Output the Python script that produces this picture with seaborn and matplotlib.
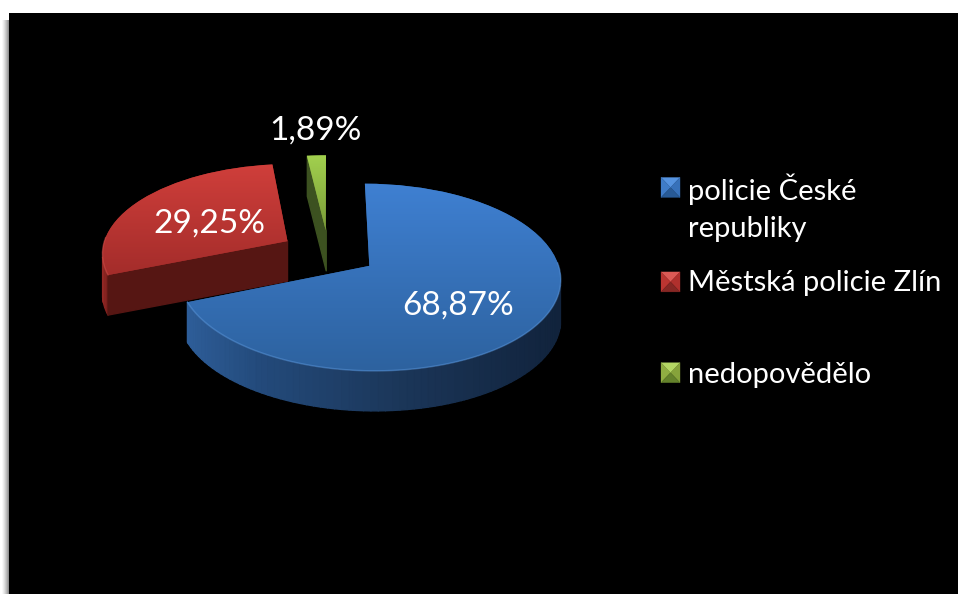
import numpy as np
import matplotlib
matplotlib.use("Agg")
import matplotlib.pyplot as plt
import seaborn as sns
from matplotlib.collections import PolyCollection
from matplotlib.colors import to_rgb
from matplotlib.legend_handler import HandlerBase
from matplotlib.patches import Polygon, Rectangle
from matplotlib.transforms import Affine2D, Transform

categories = ["policie České\nrepubliky", "Městská policie Zlín\n", "nedopovědělo"]
values = [68.87, 29.25, 1.89]
value_labels = ["68,87%", "29,25%", "1,89%"]

W, H = 958, 594
CX, CY, RX, RY = 328.5, 252.7, 186.0, 89.0
TILT = 0.12
DEPTH = 40.0
EXPLODE = 0.26

face_stops = [
    ((183, "#3f80d2"), (370, "#2d629f")),
    ((163, "#d03f3b"), (277, "#a32c2a")),
    ((153, "#a3d24f"), (230, "#7a9b38")),
]
wall_stops = [
    [(186, "#2e5e99"), (260, "#234a7b"), (400, "#1b3659"), (560, "#11233c")],
    [(101, "#a02c29"), (108, "#7a1f1c"), (116, "#561613"), (288, "#551612")],
    [(306, "#3b4f20"), (322, "#3d5220"), (326, "#5d7f2e")],
]
rim_colors = ["#5f9be0", "#d9544f", "#b4dc62"]
label_px = [(458, 306), (209, 224), (316, 131)]
bevels = [
    ("#5593e0", "#3f7cc8", "#3771ba", "#285a96"),
    ("#dc5a55", "#bb3531", "#b0302d", "#862724"),
    ("#b4d764", "#90ae42", "#86a33b", "#64822b"),
]


class Perspective(Transform):
    input_dims = output_dims = 2
    has_inverse = False

    def transform_non_affine(self, xy):
        xy = np.asarray(xy, dtype=float)
        return xy / (1 + TILT * xy[:, 1:2])


def dx(px):
    return (px - CX) / RX


def dy(py):
    return (CY - py) / RY


def lerp(stops, v):
    pos = [s[0] for s in stops]
    cols = np.array([to_rgb(s[1]) for s in stops])
    return np.array([np.interp(v, pos, cols[:, i]) for i in range(3)]).T


class BevelHandle:
    def __init__(self, cols, lift):
        self.cols, self.lift = cols, lift


class BevelHandler(HandlerBase):
    def create_artists(self, legend, orig, xd, yd, width, height, fontsize, trans):
        w, h = 13.7, 14.4
        x0, y0 = -xd, -yd + height / 2 - h / 2 + orig.lift
        mid = (x0 + w / 2, y0 + h / 2)
        a, b, c, d = (x0, y0 + h), (x0 + w, y0 + h), (x0 + w, y0), (x0, y0)
        tris = [(a, b, mid), (a, d, mid), (b, c, mid), (d, c, mid)]
        return [Polygon(t, closed=True, facecolor=col, edgecolor=col, lw=0.2, transform=trans)
                for t, col in zip(tris, orig.cols)]


sns.set_theme(style="dark")
plt.rcParams["font.family"] = ["Lato", "DejaVu Sans"]

fig = plt.figure(figsize=(W / 100, H / 100), dpi=100, facecolor="white")
ax = fig.add_axes([0, 0, 1, 1])

persp = Perspective()
wedges, _ = ax.pie(values, explode=[EXPLODE] * 3, startangle=90, counterclock=False, radius=1)

ext = (dx(0), dx(W), dy(H), dy(0))
ax.set_axis_off()

ax.add_patch(Rectangle((dx(9), dy(H)), dx(W) - dx(9), dy(13) - dy(H), facecolor="black", edgecolor="none", zorder=0))
shadow = np.zeros((1, 8, 4))
shadow[..., 3] = np.linspace(0.0, 0.55, 8) ** 1.4
ax.imshow(shadow, extent=(dx(1), dx(9), dy(H), dy(20)), aspect="auto", zorder=0)

py = np.arange(H) + 0.5
order = [2, 1, 0]
for rank, i in enumerate(order):
    z = 2 + rank * 4
    wedge = wedges[i]
    wedge.set_transform(persp + ax.transData)
    wedge.set_zorder(z + 1)
    wedge.set_facecolor(face_stops[i][1][1])
    wedge.set_edgecolor("none")

    path = wedge.get_patch_transform().transform_path(wedge.get_path())
    fine = Affine2D().scale(400).transform_path(path).to_polygons(closed_only=False)[0] / 400
    ring = persp.transform(fine)

    quads, fcols = [], []
    drop = DEPTH / RY
    for p, q in zip(ring[:-1], ring[1:]):
        if (q[0] - p[0]) * RX <= 0.1 * abs(q[1] - p[1]) * RY:
            continue
        quads.append([p, q, q - [0, drop], p - [0, drop]])
        mean_px = CX + RX * (p[0] + q[0]) / 2
        fcols.append(lerp(wall_stops[i], mean_px))
    ax.add_collection(PolyCollection(quads, facecolors=fcols, edgecolors=fcols, linewidths=1.0, zorder=z))

    grad = lerp(face_stops[i], py)[:, None, :]
    img = ax.imshow(grad, extent=ext, aspect="auto", zorder=z + 2)
    img.set_clip_path(wedge)

    c = np.array(wedge.center)
    rad = np.hypot(*(fine - c).T)
    front = (rad > 0.98) & (fine[:, 1] < c[1] + 0.05)
    rim = ring.copy()
    rim[~front] = np.nan
    rim[-1] = np.nan
    ax.plot(*rim.T, color=rim_colors[i], lw=1.1, alpha=0.45, zorder=z + 3)

for txt, (x, y) in zip(value_labels, label_px):
    ax.text(dx(x), dy(y), txt, color="white", fontsize=24, ha="center", va="center", zorder=30)

handles = [BevelHandle(bevels[0], 14.5), BevelHandle(bevels[1], 14.5), BevelHandle(bevels[2], 0.0)]
leg = ax.legend(
    handles, categories,
    handler_map={BevelHandle: BevelHandler()},
    loc="upper left", bbox_to_anchor=(661 / W, 1 - 173 / H),
    frameon=False, fontsize=21, labelcolor="white", borderpad=0, borderaxespad=0,
    handlelength=0.7, handletextpad=0.23, labelspacing=0.98,
)
for t in leg.get_texts():
    t.set_linespacing(1.53)
leg.set_zorder(30)

ax.set_aspect("auto")
ax.set_xlim(dx(0), dx(W))
ax.set_ylim(dy(H), dy(0))

fig.savefig("out.png", dpi=100, facecolor="white")
